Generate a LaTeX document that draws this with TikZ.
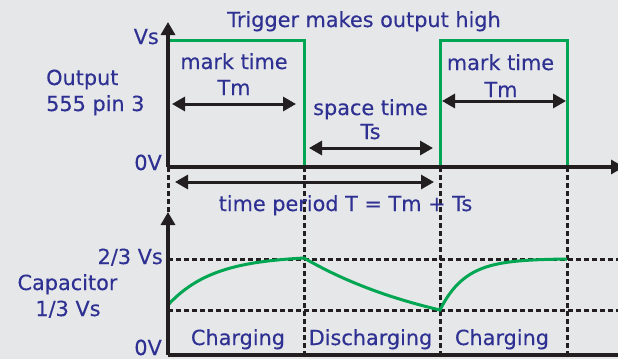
\documentclass[tikz,border=0pt]{standalone}
\usepackage{fontspec}
\setmainfont{DejaVu Sans}
\newfontfamily\lblfont[FakeBold=0.3]{DejaVu Sans}
\usetikzlibrary{arrows.meta}
\definecolor{bg}{RGB}{230,231,233}
\definecolor{txtblue}{RGB}{46,49,146}
\definecolor{sig}{RGB}{0,166,81}
\definecolor{ink}{RGB}{35,31,32}
\begin{document}
\begin{tikzpicture}[x=1pt,y=-1pt,
  lbl/.style={inner sep=0pt,text=txtblue,font=\lblfont\fontsize{20.8}{26}\selectfont},
  axis/.style={draw=ink,line width=3.2pt},
  tip/.style={-{Triangle[length=13pt,width=14pt]}},
  dbl/.style={draw=ink,line width=3pt,{Triangle[length=13pt,width=14pt]}-{Triangle[length=13pt,width=14pt]}},
  grid/.style={draw=ink,line width=3pt,dash pattern=on 5pt off 3pt},
  wave/.style={draw=sig,line width=3pt,line join=miter}]
\fill[bg] (0,0) rectangle (618,359);
\useasboundingbox (0,0) rectangle (618,359);
% key coordinates
\coordinate (o1) at (168,167);
\coordinate (top1) at (168,22);
\coordinate (r1) at (624,167);
\coordinate (o2) at (168,355);
\coordinate (top2) at (168,212);
\coordinate (r2) at (622,355);
% dashed grid
\draw[grid] (168,167) -- (168,213);
\draw[grid] (304,167) -- (304,355);
\draw[grid] (440,167) -- (440,355);
\draw[grid] (567,167) -- (567,355);
\draw[grid] (168,259) -- (622,259);
\draw[grid] (168,310) -- (622,310);
% output waveform
\draw[wave] (168,167) -- (168,40) -- (304,40) -- (304,166) -- (440,166) -- (440,40) -- (567,40) -- (567,167);
% capacitor waveform
\draw[wave] plot[domain=0:1,samples=60,smooth,variable=\t] ({168+136*\t},{305-47*(1-exp(-3*\t))/(1-exp(-3))})
  -- plot[domain=0:1,samples=60,smooth,variable=\t] ({304+136*\t},{258+52*(1-exp(-0.9*\t))/(1-exp(-0.9))})
  -- plot[domain=0:1,samples=60,smooth,variable=\t] ({440+127*\t},{310-51*(1-exp(-5*\t))/(1-exp(-5))});
% axes
\draw[axis,tip] (o1) -- (top1);
\draw[axis,tip] (o1) -- (r1);
\draw[axis,tip] (o2) -- (top2);
\draw[axis] (o2) -- (r2);
% double arrows
\coordinate (m1a) at (172,104); \coordinate (m1b) at (296,104);
\coordinate (s1a) at (309,148); \coordinate (s1b) at (433,148);
\coordinate (m2a) at (442,101); \coordinate (m2b) at (566,101);
\coordinate (pa) at (175,182); \coordinate (pb) at (434,182);
\draw[dbl] (m1a) -- (m1b);
\draw[dbl] (s1a) -- (s1b);
\draw[dbl] (m2a) -- (m2b);
\draw[dbl] (pa) -- (pb);
% labels
\node[lbl,anchor=base] (trig) at (364,27) {Trigger makes output high};
\node[lbl,anchor=base east] (vs) at (159,44) {Vs};
\node[lbl,anchor=base west] (out1) at (46,85) {Output};
\node[lbl,anchor=base west] (out2) at (46,111) {555 pin 3};
\node[lbl,anchor=base east] (zero1) at (162,170) {0V};
\node[lbl,anchor=base] (mark1) at (234,69) {mark time};
\node[lbl,anchor=base] (tm1) at (234,95) {Tm};
\node[lbl,anchor=base] (space) at (370.5,115) {space time};
\node[lbl,anchor=base] (ts) at (370.5,139) {Ts};
\node[lbl,anchor=base] (mark2) at (500.5,70) {mark time};
\node[lbl,anchor=base] (tm2) at (501,97) {Tm};
\node[lbl,anchor=base] (period) at (345.5,211) {time period T = Tm + Ts};
\node[lbl,anchor=base east] (twothirds) at (163,264) {2/3 Vs};
\node[lbl,anchor=base] (cap) at (67.5,290) {Capacitor};
\node[lbl,anchor=base] (onethird) at (68,316) {1/3 Vs};
\node[lbl,anchor=base east] (zero2) at (162,355) {0V};
\node[lbl,anchor=base] (ch1) at (238,345) {Charging};
\node[lbl,anchor=base] (dis) at (370.5,345) {Discharging};
\node[lbl,anchor=base] (ch2) at (502,345) {Charging};
\end{tikzpicture}
\end{document}
